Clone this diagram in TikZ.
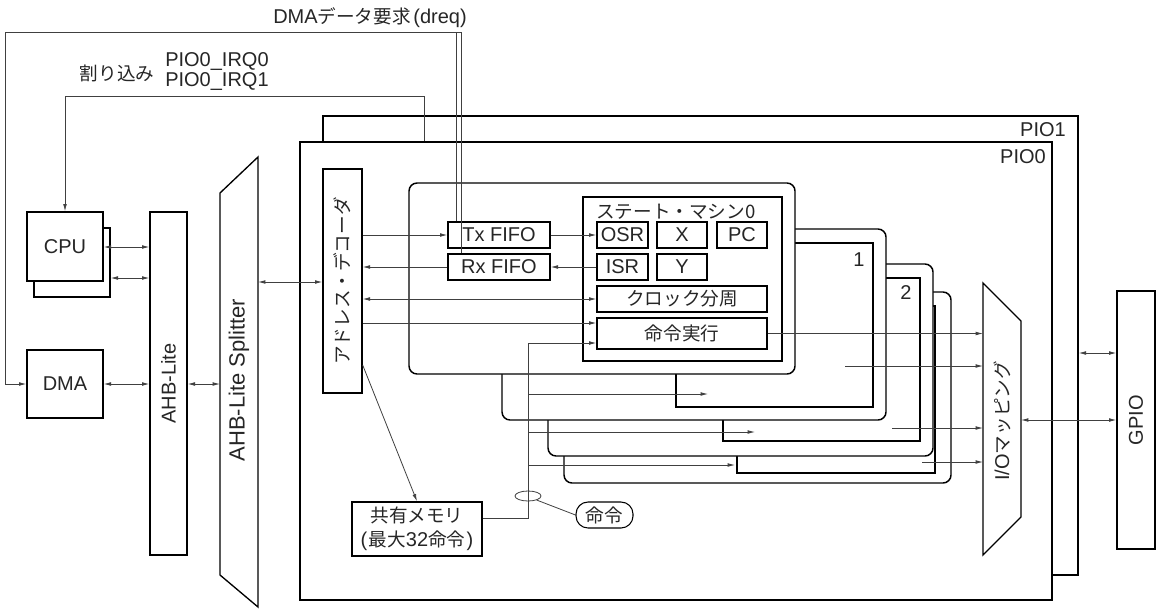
\documentclass[tikz,border=0pt]{standalone}
\usepackage{fontspec}
\setmainfont{Liberation Sans}
\newfontfamily\jp[Scale=0.93]{Noto Sans CJK JP}
\usetikzlibrary{arrows.meta,shapes.geometric}
\begin{document}
\begin{tikzpicture}[x=0.75pt,y=-0.75pt,
  every node/.style={font=\fontsize{15pt}{18pt}\selectfont, text=black!85, inner sep=0pt},
  box/.style={draw=black, line width=1pt, fill=white},
  wire/.style={draw=black!75, line width=0.6pt},
  arr/.style={wire, -{Latex[length=5.5pt,width=2.8pt]}},
  darr/.style={wire, {Latex[length=5.5pt,width=2.8pt]}-{Latex[length=5.5pt,width=2.8pt]}},
  smout/.style={draw=black, line width=1.1pt, fill=white, rounded corners=6pt},
  smin/.style={draw=black, line width=1.1pt},
]
\fill[white] (0,0) rectangle (1159,610);
\useasboundingbox (0,0) rectangle (1159,610);

% PIO blocks
\node[box, minimum width=566.25pt, minimum height=344.25pt] (pio1) at (700.5,345.5) {};
\node[box, minimum width=564pt, minimum height=343.5pt] (pio0) at (676,371) {};
\node[anchor=east] (pio1lbl) at (1066,130) {PIO1};
\node[anchor=east] (pio0lbl) at (1046,157) {PIO0};

% state machines 3..0
\draw[smout] (564,292) rectangle (951,483);
\draw[smin] (737,306) rectangle (935,473);
\draw[smout] (548,264) rectangle (933,456);
\draw[smin] (723,278) rectangle (920,441);
\node (n2) at (906,293) {2};
\draw[smout] (502,229) rectangle (886,420);
\draw[smin] (676,243) rectangle (873,407);
\node (n1) at (859,260) {1};
\draw[smout] (409,183) rectangle (795,374);
\draw[smin] (583,197) rectangle (782,361);

% left side
\node[box, minimum width=57pt, minimum height=51.75pt] (cpub) at (72,262.5) {};
\node[box, minimum width=57pt, minimum height=51.75pt] (cpu) at (65,246.5) {CPU};
\node[box, minimum width=57pt, minimum height=51pt] (dma) at (65,384) {DMA};
\node[box, minimum width=27.75pt, minimum height=257.25pt] (ahb) at (168.5,383.5) {};
\node[rotate=90] (ahblbl) at (ahb.center) {AHB-Lite};
\draw[box] (220,193) -- (258,157) -- (258,607) -- (220,575) -- cycle;
\coordinate (splw) at (220,384);
\coordinate (sple) at (258,282);
\node[rotate=90, font=\fontsize{16.5pt}{18pt}\selectfont] (spllbl) at (239,380) {AHB-Lite Splitter};

% decoder
\node[box, minimum width=29.25pt, minimum height=168pt] (dec) at (342.5,281) {};
\node[rotate=90] (declbl) at (dec.center) {\jp アドレス・デコーダ};

% FIFOs
\node[box, minimum width=76.5pt, minimum height=19.5pt] (tx) at (499,235) {Tx FIFO};
\node[box, minimum width=76.5pt, minimum height=19.5pt] (rx) at (499,267) {Rx FIFO};

% state machine 0 contents
\node[anchor=west] (smlbl) at (596,212) {\jp ステート・マシン0};
\node[box, minimum width=38.25pt, minimum height=19.5pt] (osr) at (622.5,235) {OSR};
\node[box, minimum width=37.5pt, minimum height=19.5pt] (regx) at (682,235) {X};
\node[box, minimum width=37.5pt, minimum height=19.5pt] (pc) at (742,235) {PC};
\node[box, minimum width=38.25pt, minimum height=19.5pt] (isr) at (622.5,267) {ISR};
\node[box, minimum width=37.5pt, minimum height=19.5pt] (regy) at (682,267) {Y};
\node[box, minimum width=127.5pt, minimum height=19.5pt] (clk) at (682,299) {\jp クロック分周};
\node[box, minimum width=127.5pt, minimum height=23.25pt] (exe) at (682,333.5) {\jp 命令実行};

% memory
\node[box, minimum width=97.5pt, minimum height=40.5pt, align=center] (mem) at (417,529) {{\jp 共有メモリ}\\(\kern1pt{\jp 最大}32{\jp 命令}\kern1pt)};
\node[draw=black, line width=0.8pt, rounded corners=9pt, minimum width=42.75pt, minimum height=19.5pt] (meirei) at (604.5,515) {\jp 命令};
\node[draw=black!75, line width=0.6pt, ellipse, minimum width=19.5pt, minimum height=7.5pt] (loop) at (528,496) {};

% right side
\draw[box] (983,283) -- (1021,321) -- (1021,517) -- (983,555) -- cycle;
\coordinate (iomw) at (983,420);
\coordinate (iome) at (1021,420);
\node[rotate=90] (iomlbl) at (1002,421) {I/O{\jp マッピング}};
\node[box, minimum width=28.5pt, minimum height=193.5pt] (gpio) at (1136,420) {};
\node[rotate=90] (gpiolbl) at (gpio.center) {GPIO};

% top labels
\node (dreqlbl) at (370,18) {DMA{\jp データ要求}\kern2pt(dreq)};
\node (irqlbl) at (117,73) {\jp 割り込み};
\node[anchor=west] (irq0) at (165,62) {PIO0\_IRQ0};
\node[anchor=west] (irq1) at (165,82) {PIO0\_IRQ1};

% wires: dreq
\coordinate (dqa) at (456,32);
\coordinate (dqb) at (461,32);
\coordinate (dql) at (5,32);
\draw[arr] (tx.north -| dqa) -- (dqa) -- (dql) |- (dma.west);
\draw[wire] (rx.north -| dqb) -- (dqb) -- (dqa);
% interrupts
\coordinate (irq) at (424,96);
\draw[arr] (pio0.north -| irq) -- (irq) -| (cpu.north);
% bus
\draw[darr] (cpu.east |- 0,247) -- (ahb.west |- 0,247);
\draw[darr] (cpub.east |- 0,278) -- (ahb.west |- 0,278);
\draw[darr] (dma.east) -- (ahb.west |- dma.east);
\draw[darr] (ahb.east |- dma.east) -- (splw |- dma.east);
\draw[darr] (sple) -- (dec.west |- sple);
% decoder
\draw[arr] (dec.east |- tx.west) -- (tx.west);
\draw[arr] (rx.west) -- (dec.east |- rx.west);
\draw[darr] (dec.east |- clk.west) -- (clk.west);
\draw[arr] (dec.east |- 0,323) -- (exe.west |- 0,323);
\draw[arr] (tx.east) -- (osr.west);
\draw[arr] (isr.west) -- (rx.east);
\draw[arr] (dec.east |- 0,365) -- (mem.north);
% instruction bus
\coordinate (bus) at (528,343);
\coordinate (e1) at (708,394);
\coordinate (e2) at (755,432);
\coordinate (e3) at (735,465);
\draw[arr] (mem.east |- 0,518) -| (bus) -- (exe.west |- bus);
\draw[arr] (bus |- e1) -- (e1);
\draw[arr] (bus |- e2) -- (e2);
\draw[arr] (bus |- e3) -- (e3);
\draw[wire] (loop.-25) -- (meirei.west);
% to I/O mapping
\coordinate (s1) at (845,366);
\coordinate (s2) at (892,428);
\coordinate (s3) at (922,462);
\draw[arr] (exe.east) -- (iomw |- exe.east);
\draw[arr] (s1) -- (iomw |- s1);
\draw[arr] (s2) -- (iomw |- s2);
\draw[arr] (s3) -- (iomw |- s3);
\draw[darr] (iome) -- (gpio.west |- iome);
\draw[darr] (pio1.east |- 0,353) -- (gpio.west |- 0,353);
\end{tikzpicture}
\end{document}
